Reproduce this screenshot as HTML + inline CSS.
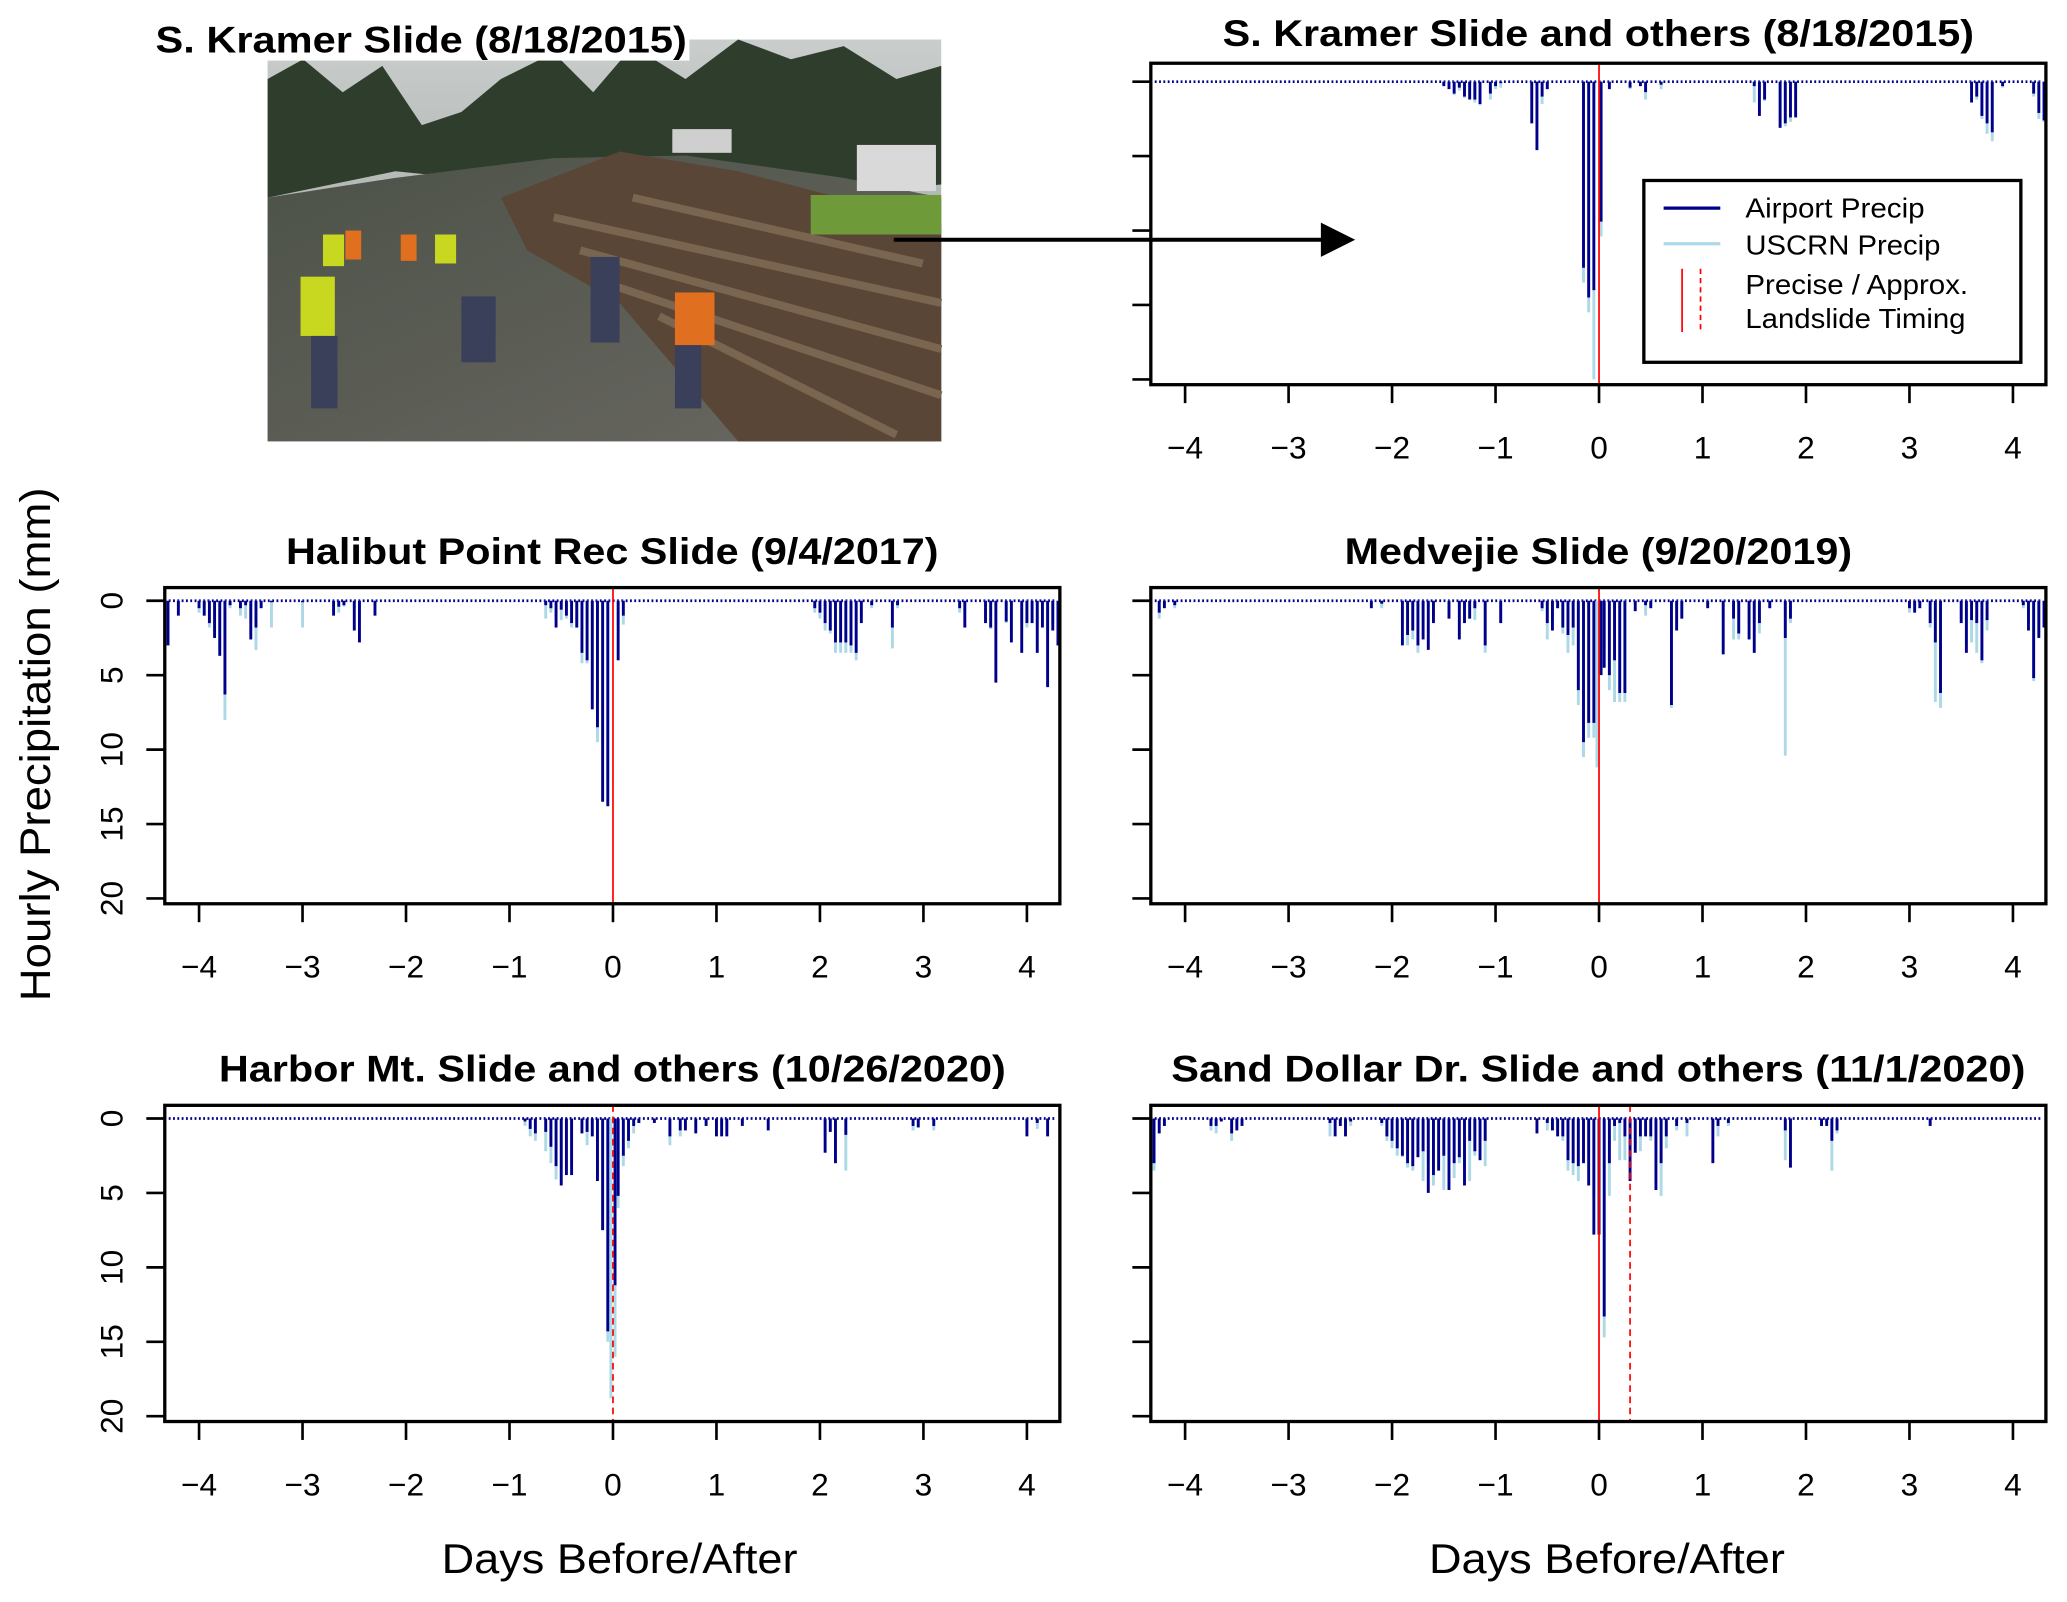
<!DOCTYPE html>
<html><head><meta charset="utf-8"><style>
html,body{margin:0;padding:0;background:#fff;}
svg{display:block;font-family:"Liberation Sans",Arial,sans-serif;}
</style></head><body>
<svg id="fig" width="2067" height="1602" viewBox="0 0 1568 1216" preserveAspectRatio="none" xmlns="http://www.w3.org/2000/svg">
<defs>
<linearGradient id="sky" x1="0" y1="0" x2="0" y2="1"><stop offset="0" stop-color="#c9cdcc"/><stop offset="1" stop-color="#8f9890"/></linearGradient>
<linearGradient id="ground" x1="0" y1="0" x2="1" y2="1"><stop offset="0" stop-color="#4c5248"/><stop offset="1" stop-color="#6a6862"/></linearGradient>
</defs>
<g>
<rect x="203" y="30" width="511" height="305" fill="url(#sky)"/>
<polygon points="203,60 230,45 260,70 290,50 320,95 350,85 380,60 420,40 450,70 480,35 520,60 560,30 600,45 640,35 680,60 714,50 714,140 600,150 500,130 400,140 300,130 203,150" fill="#2f3d2c"/>
<polygon points="203,150 300,135 420,120 520,118 640,135 714,150 714,335 203,335" fill="url(#ground)"/>
<polygon points="380,150 470,115 560,130 714,170 714,335 560,335 470,230 400,190" fill="#5a4636"/>
<g stroke="#7a6550" stroke-width="6">
<line x1="420" y1="165" x2="714" y2="230"/><line x1="440" y1="190" x2="714" y2="265"/><line x1="460" y1="215" x2="714" y2="300"/><line x1="480" y1="150" x2="700" y2="200"/><line x1="500" y1="240" x2="680" y2="330"/>
</g>
<rect x="615" y="148" width="99" height="30" fill="#6f9a3a"/>
<rect x="650" y="110" width="60" height="35" fill="#d9d9d9"/>
<rect x="510" y="98" width="45" height="18" fill="#cfcfcf"/>
<g fill="#c8d820"><rect x="228" y="210" width="26" height="45"/><rect x="245" y="178" width="16" height="24"/><rect x="330" y="178" width="16" height="22"/></g>
<g fill="#e07020"><rect x="512" y="222" width="30" height="40"/><rect x="262" y="175" width="12" height="22"/><rect x="304" y="178" width="12" height="20"/></g>
<g fill="#3a3f5a"><rect x="236" y="255" width="20" height="55"/><rect x="350" y="225" width="26" height="50"/><rect x="448" y="195" width="22" height="65"/><rect x="512" y="262" width="20" height="48"/></g>
</g>
<rect x="118" y="14" width="405" height="32" fill="#fff"/>
<text x="118" y="40" font-size="28" font-weight="bold" textLength="403" lengthAdjust="spacingAndGlyphs">S. Kramer Slide (8/18/2015)</text>
<g>
<line x1="678" y1="182" x2="1004" y2="182" stroke="#000" stroke-width="3"/>
<polygon points="1002,169 1028,182 1002,195" fill="#000"/>
</g>
<text transform="translate(38,565) rotate(-90)" text-anchor="middle" font-size="32" textLength="390" lengthAdjust="spacingAndGlyphs">Hourly Precipitation (mm)</text>
<text x="470" y="1194" text-anchor="middle" font-size="32" textLength="270" lengthAdjust="spacingAndGlyphs">Days Before/After</text>
<text x="1219" y="1194" text-anchor="middle" font-size="32" textLength="270" lengthAdjust="spacingAndGlyphs">Days Before/After</text>
<g id="panels"></g>
<g>
<rect x="1247" y="137" width="286" height="138" fill="#fff" stroke="#000" stroke-width="2.5"/>
<line x1="1262" y1="158" x2="1305" y2="158" stroke="#00008b" stroke-width="2.5"/>
<line x1="1262" y1="185" x2="1305" y2="185" stroke="#add8e6" stroke-width="2.5"/>
<line x1="1276" y1="204" x2="1276" y2="252" stroke="#ff0000" stroke-width="1.3"/>
<line x1="1290" y1="204" x2="1290" y2="252" stroke="#ff0000" stroke-width="1.3" stroke-dasharray="4 3"/>
<text x="1324" y="165" font-size="21" textLength="136" lengthAdjust="spacingAndGlyphs">Airport Precip</text>
<text x="1324" y="193" font-size="21" textLength="148" lengthAdjust="spacingAndGlyphs">USCRN Precip</text>
<text x="1324" y="223" font-size="21" textLength="169" lengthAdjust="spacingAndGlyphs">Precise / Approx.</text>
<text x="1324" y="249" font-size="21" textLength="167" lengthAdjust="spacingAndGlyphs">Landslide Timing</text>
</g>
</svg>
<script>
const xTicks = [-4,-3,-2,-1,0,1,2,3,4];
const xTickLabels = ["\u22124","\u22123","\u22122","\u22121","0","1","2","3","4"];
const yTicks = [0,5,10,15,20];
const yTickLabels = ["0","5","10","15","20"];

const p1Title = "S. Kramer Slide and others (8/18/2015)";
const p1Days = [-1.5,-1.45,-1.4,-1.35,-1.3,-1.25,-1.2,-1.15,-1.05,-1.0,-0.95,-0.65,-0.6,-0.55,-0.5,-0.15,-0.1,-0.05,0.02,0.1,0.3,0.4,0.45,0.6,1.5,1.55,1.6,1.75,1.8,1.85,1.9,3.6,3.65,3.7,3.75,3.8,3.9,4.2,4.25,4.3];
const p1Airport = [0.3,0.5,0.8,0.4,1,1.2,1.2,1.5,0.8,0.3,0.1,2.8,4.6,1,0.5,12.5,14.5,14,9.4,0.5,0.4,0.3,0.7,0.2,0.3,2.3,1.2,3.1,2.8,2.4,2.4,1.4,1.0,2.3,2.8,3.4,0.3,0.8,2.1,2.6];
const p1Uscrn = [0.2,0.3,0.9,0.6,1.1,1.1,1.4,1.6,1.2,0.5,0.4,1.2,3.2,1.5,0.5,13.5,15.5,20,10.4,0.3,0.5,0.3,1.2,0.5,1.4,1.0,1.3,2.7,3.0,2.7,1.1,0.8,1.2,2.5,3.5,4.0,0.4,1.0,2.5,2.7];
const p1Solid = [0];
const p1Dashed = [];

const p2Title = "Halibut Point Rec Slide (9/4/2017)";
const p2Days = [-4.3,-4.2,-4.0,-3.95,-3.9,-3.85,-3.8,-3.75,-3.7,-3.6,-3.55,-3.5,-3.45,-3.4,-3.3,-3.0,-2.7,-2.65,-2.6,-2.5,-2.45,-2.3,-0.65,-0.6,-0.55,-0.5,-0.45,-0.4,-0.35,-0.3,-0.25,-0.2,-0.15,-0.1,-0.05,0.05,0.1,1.95,2.0,2.05,2.1,2.15,2.2,2.25,2.3,2.35,2.4,2.5,2.7,2.75,3.35,3.4,3.6,3.65,3.7,3.8,3.85,3.95,4.0,4.05,4.1,4.15,4.2,4.25,4.3];
const p2Airport = [3,1,0.5,1,1.5,2.5,3.7,6.3,0.3,0.5,0.3,2.6,1.8,0.5,0.1,0.1,1,0.4,0.3,2,2.8,1,0.3,0.5,1.8,0.6,1,1.5,1.8,3.5,4,7.3,8.5,13.5,13.8,4,1,0.5,0.8,1.5,2,2.8,2.8,2.8,3,3.5,1.5,0.3,1.8,0.3,0.5,1.8,1.5,1.8,5.5,1.4,2.8,3.5,1.5,1.5,3.5,1.8,5.8,2,3];
const p2Uscrn = [2.8,0.5,0.8,1,1.8,2.2,3.3,8,0.5,1,1.2,1.3,3.3,0.4,1.8,1.8,0.5,0.8,0.4,0.5,0.6,0.4,1.2,0.8,1,1.3,1.2,1.8,1.8,4.2,4.2,5.3,9.5,9.6,12,1.5,1.6,0.8,1.2,2,2.2,3.5,3.5,3.5,3.5,4,1,0.5,3.2,0.5,0.8,0.8,1.5,1.9,1.5,1.5,2.2,1.6,1.8,1.5,1.8,1.5,2.2,1.5,1.5];
const p2Solid = [0];
const p2Dashed = [];

const p3Title = "Medvejie Slide (9/20/2019)";
const p3Days = [-4.25,-4.2,-4.1,-2.2,-2.1,-1.9,-1.85,-1.8,-1.75,-1.7,-1.65,-1.6,-1.45,-1.35,-1.3,-1.25,-1.2,-1.1,-0.95,-0.55,-0.5,-0.45,-0.4,-0.35,-0.3,-0.25,-0.2,-0.15,-0.1,-0.05,-0.02,0.02,0.05,0.1,0.15,0.2,0.25,0.35,0.45,0.5,0.7,0.75,0.8,1.05,1.2,1.3,1.35,1.45,1.5,1.55,1.65,1.8,1.85,3.0,3.05,3.1,3.2,3.25,3.3,3.5,3.55,3.6,3.65,3.7,3.75,4.1,4.15,4.2,4.25,4.3];
const p3Airport = [0.8,0.5,0.3,0.5,0.2,3,2.3,2,3,2.6,3.3,1.5,1.2,2.6,1.5,1.2,0.5,3,1.5,0.5,1.5,2,0.5,1.8,2.3,1.8,6,9.5,8.2,8.2,0,5,4.5,5,4,6.2,6.2,0.7,0.3,0.5,7,2,1.2,0.5,3.6,1.2,2.2,2.6,3.5,1.5,0.5,2.5,1.2,0.5,0.8,0.5,1.5,2.8,6.2,1.5,3.5,1.3,1.5,4,1.3,0.3,2,5.2,2.5,1.8];
const p3Uscrn = [1.2,0.4,0.5,0.2,0.5,1.5,3,2.6,3.5,1.2,0.5,1,1.2,0.5,0.5,1.2,1.3,3.5,1.5,0.7,2.6,1.3,0.5,2.2,3.5,3,7,10.5,9.2,9.2,11.2,4,3.2,6,6.8,6.8,6.8,0.3,1,0.3,7.2,0.8,1.2,0.3,1.2,2.6,2.6,1.5,1.5,2.2,0.5,10.4,1.5,0.8,0.3,0.3,1.8,6.8,7.2,1.2,3,2.8,3.5,4.2,2,0.5,1.5,5.4,2.2,1.5];
const p3Solid = [0];
const p3Dashed = [];

const p4Title = "Harbor Mt. Slide and others (10/26/2020)";
const p4Days = [-0.85,-0.8,-0.75,-0.65,-0.6,-0.55,-0.5,-0.45,-0.4,-0.3,-0.25,-0.2,-0.15,-0.1,-0.05,-0.02,0.02,0.05,0.1,0.15,0.2,0.25,0.4,0.55,0.65,0.7,0.8,0.9,1.0,1.05,1.1,1.25,1.5,2.05,2.1,2.15,2.25,2.9,2.95,3.1,4.0,4.1,4.2];
const p4Airport = [0.2,0.7,1,0.9,1.9,3.2,4.5,3.8,3.8,1,0.9,1.2,4.2,7.5,14.3,0,11.2,5.2,2.5,1.5,0.5,0.3,0.3,1.2,0.8,0.8,1,0.5,1.2,1.2,1.2,0.5,0.8,2.3,0.9,3,1.1,0.5,0.6,0.5,1.2,0.3,1.2];
const p4Uscrn = [0.5,1.2,1.5,2.2,3,4.1,4.2,3.5,3,0.8,1.8,1.2,4,7.5,15,18.8,16,6,3.2,2,1,0.3,0.2,1.8,1.2,0.5,0.5,0.3,0.4,0.5,0.5,0.3,0.4,1.2,0.8,3,3.5,0.8,0.6,0.8,0.5,0.7,0.4];
const p4Solid = [];
const p4Dashed = [0];

const p5Title = "Sand Dollar Dr. Slide and others (11/1/2020)";
const p5Days = [-4.3,-4.25,-4.2,-3.75,-3.7,-3.65,-3.55,-3.5,-3.45,-2.6,-2.55,-2.5,-2.45,-2.4,-2.1,-2.05,-2.0,-1.95,-1.9,-1.85,-1.8,-1.75,-1.7,-1.65,-1.6,-1.55,-1.5,-1.45,-1.4,-1.35,-1.3,-1.25,-1.2,-1.15,-1.1,-0.6,-0.5,-0.45,-0.4,-0.35,-0.3,-0.25,-0.2,-0.15,-0.1,-0.05,0.0,0.05,0.1,0.15,0.2,0.25,0.3,0.35,0.4,0.45,0.5,0.55,0.6,0.65,0.75,0.85,1.1,1.15,1.25,1.8,1.85,2.15,2.2,2.25,2.3,3.2];
const p5Airport = [3,1,0.5,0.5,0.5,0.2,1,0.8,0.5,0.3,1.2,0.5,1.2,0.2,0.3,1.2,1.5,2,2.5,3,3.2,2.6,2.2,5,3.8,3.5,2.5,4.8,3,2.6,4.5,1.5,2.2,2.8,1.5,1,0.3,0.8,1.2,1.2,2.8,3,3.2,3,4.5,7.8,7.8,13.3,3,0.5,0.3,1.2,4.2,2.3,1.2,1.2,1.2,4.8,3,1.2,0.5,0.3,3,0.5,0.3,0.8,3.3,0.5,0.5,1.5,0.8,0.5];
const p5Uscrn = [3.5,0.5,0.3,0.8,1,0.2,1.5,0.5,0.4,1.2,0.3,0.3,0.5,0.5,0.5,1.5,2,2.5,2.6,3.3,3.5,2.5,4.2,3,4.5,3.2,4.8,3.2,4,3,3.2,4.2,2.5,1.5,3.2,0.2,0.8,0.8,1.2,1.5,3.5,3.8,4.2,3,2.5,5.2,7.2,14.7,5.2,1.5,2.8,2.8,2.2,1.8,2.2,1.2,1.5,2.2,5.2,2,0.8,1.2,0.8,1.2,0.5,2.8,1.8,0.5,0.3,3.5,1,0.3];
const p5Solid = [0];
const p5Dashed = [0.3];

const NS = "http://www.w3.org/2000/svg";
const root = document.getElementById('panels');
function mk(tag, attrs, parent){
  const e = document.createElementNS(NS, tag);
  for (const k in attrs) e.setAttribute(k, attrs[k]);
  parent.appendChild(e);
  return e;
}
const layouts = [
  {left:873, right:1552, top:48, bottom:292, zOff:14, x4:899, titleY:35, titleW:570, yLabels:false},
  {left:125, right:804, top:446, bottom:686, zOff:10, x4:151, titleY:428, titleW:495, yLabels:true},
  {left:873, right:1552, top:446, bottom:686, zOff:10, x4:899, titleY:428, titleW:385, yLabels:false},
  {left:125, right:804, top:839, bottom:1079, zOff:10, x4:151, titleY:821, titleW:597, yLabels:true},
  {left:873, right:1552, top:839, bottom:1079, zOff:10, x4:899, titleY:821, titleW:648, yLabels:false}
];
const panels = [
  {title:p1Title, days:p1Days, air:p1Airport, usc:p1Uscrn, solid:p1Solid, dashed:p1Dashed},
  {title:p2Title, days:p2Days, air:p2Airport, usc:p2Uscrn, solid:p2Solid, dashed:p2Dashed},
  {title:p3Title, days:p3Days, air:p3Airport, usc:p3Uscrn, solid:p3Solid, dashed:p3Dashed},
  {title:p4Title, days:p4Days, air:p4Airport, usc:p4Uscrn, solid:p4Solid, dashed:p4Dashed},
  {title:p5Title, days:p5Days, air:p5Airport, usc:p5Uscrn, solid:p5Solid, dashed:p5Dashed}
];
panels.forEach((p, i) => {
  const L = layouts[i];
  const perDay = 78.5;
  const xS = d => L.x4 + (d + 4) * perDay;
  const zero = L.top + L.zOff;
  const yS = v => zero + v * 11.3;
  const g = mk('g', {}, root);
  
  
  const t = mk('text', {x:(L.left+L.right)/2, y:L.titleY, 'text-anchor':'middle', 'font-size':28, 'font-weight':'bold', textLength:L.titleW, lengthAdjust:'spacingAndGlyphs'}, g);
  t.textContent = p.title;
  
  
  const bl = mk('line', {x1:L.left+3, x2:L.right-3, y1:zero, y2:zero, stroke:'#00008b', 'stroke-width':2, 'stroke-dasharray':'1.4 1.87'}, g);
  
  
  p.days.forEach((d, j) => {
    if (p.usc[j] <= 0) return;
    const b = mk('line', {x1:xS(d), x2:xS(d), y1:zero, y2:yS(p.usc[j]), stroke:'#add8e6', 'stroke-width':2.2}, g);
    
    
  });
  p.days.forEach((d, j) => {
    if (p.air[j] <= 0) return;
    const b = mk('line', {x1:xS(d), x2:xS(d), y1:zero, y2:yS(p.air[j]), stroke:'#00008b', 'stroke-width':2.2}, g);
    
    
  });
  p.solid.forEach(d => {
    const l = mk('line', {x1:xS(d), x2:xS(d), y1:L.top, y2:L.bottom, stroke:'#ff0000', 'stroke-width':1.3}, g);
    
    
  });
  p.dashed.forEach(d => {
    const l = mk('line', {x1:xS(d), x2:xS(d), y1:L.top, y2:L.bottom, stroke:'#ff0000', 'stroke-width':1.3, 'stroke-dasharray':'5 3.5'}, g);
    
    
  });
  const box = mk('rect', {x:L.left, y:L.top, width:L.right-L.left, height:L.bottom-L.top, fill:'none', stroke:'#000', 'stroke-width':2.5}, g);
  
  
  xTicks.forEach((d, k) => {
    const x = xS(d);
    const tk = mk('line', {x1:x, x2:x, y1:L.bottom, y2:L.bottom+14, stroke:'#000', 'stroke-width':2}, g);
    
    
    const tl = mk('text', {x:x, y:L.bottom+56, 'text-anchor':'middle', 'font-size':24}, g);
    tl.textContent = xTickLabels[k];
    
    
  });
  yTicks.forEach((v, k) => {
    const y = yS(v);
    const tk = mk('line', {x1:L.left-14, x2:L.left, y1:y, y2:y, stroke:'#000', 'stroke-width':2}, g);
    
    
    if (L.yLabels) {
      const tl = mk('text', {transform:'translate(' + (L.left-32) + ',' + y + ') rotate(-90)', 'text-anchor':'middle', 'font-size':24}, g);
      tl.textContent = yTickLabels[k];
      
      
    }
  });
});
</script>
</body></html>
